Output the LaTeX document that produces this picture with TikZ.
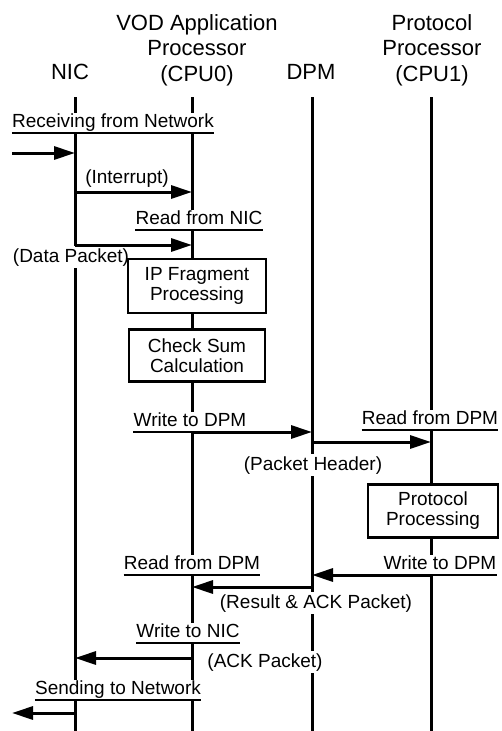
\documentclass[tikz,border=0pt]{standalone}
\usepackage{fontspec}
\setmainfont{Liberation Sans}
\usetikzlibrary{arrows.meta,positioning}

\begin{document}
\begin{tikzpicture}[
  x=1pt, y=-1pt,
  font=\fontsize{19}{20}\selectfont,
  hd/.style={align=center, inner sep=0pt, anchor=north, font=\fontsize{22}{25.5}\selectfont},
  life/.style={line width=3pt},
  proc/.style={draw, line width=2.8pt, fill=white, align=center, inner sep=0pt},
  lbl/.style={fill=white, inner xsep=0pt, inner ysep=1pt, text height=14pt, text depth=4pt, anchor=south},
  msg/.style={fill=white, inner xsep=1pt, inner ysep=2pt, anchor=base},
  ul/.style={line width=2.2pt},
  arr/.style={-{Triangle[length=21pt, width=13pt]}, line width=3pt}
]
\useasboundingbox (0,0) rectangle (502,731);

% heads
\node[hd] (nic) at (70,64) {NIC};
\node[hd] (cpu0) at (197,14) {VOD Application\\Processor\\(CPU0)};
\node[hd] (dpm) at (311,64) {DPM};
\node[hd] (cpu1) at (432,14) {Protocol\\Processor\\(CPU1)};

% lifelines
\foreach \n/\x in {nic/75, cpu0/192, dpm/312, cpu1/431}
  \draw[life] (\x,97) coordinate (l\n) -- (\x,731);

% data
\node[msg] (irq) at (127,183) {(Interrupt)};
\node[msg] (dpk) at (71,262) {(Data Packet)};
\node[msg] (phd) at (313,470) {(Packet Header)};
\node[msg] (rak) at (316,608) {(Result \& ACK Packet)};
\node[msg] (ack) at (265,667) {(ACK Packet)};

% processing
\node[proc, minimum width=138pt, minimum height=54pt] (ipf) at (197,286) {IP Fragment\\Processing};
\node[proc, minimum width=136pt, minimum height=52pt, below=14pt of ipf] (csum) {Check Sum\\Calculation};
\node[proc, minimum width=130pt, minimum height=53pt] (pp) at (433,511) {Protocol\\Processing};

% steps
\node[lbl] (rcv) at (113,133) {Receiving from Network};
\node[lbl] (rnic) at (199,230) {Read from NIC};
\node[lbl] (w1) at (190,432) {Write to DPM};
\node[lbl] (r1) at (430,430) {Read from DPM};
\node[lbl] (w2) at (440,575) {Write to DPM};
\node[lbl] (r2) at (192,575) {Read from DPM};
\node[lbl] (wnic) at (188,643) {Write to NIC};
\node[lbl] (snd) at (118,700) {Sending to Network};
\foreach \n in {rcv,rnic,w1,r1,w2,r2,wnic,snd}
  \draw[ul] (\n.south west) -- (\n.south east);

\coordinate (netin) at (12,153);
\coordinate (netout) at (12,713);
\draw[arr] (netin) -- (netin -| lnic);
\draw[arr] (lnic |- 0,192) -- (lcpu0 |- 0,192);
\draw[arr] (lnic |- 0,245) -- (lcpu0 |- 0,245);
\draw[arr] (lcpu0 |- 0,432) -- (ldpm |- 0,432);
\draw[arr] (ldpm |- 0,442) -- (lcpu1 |- 0,442);
\draw[arr] (lcpu1 |- 0,575) -- (ldpm |- 0,575);
\draw[arr] (ldpm |- 0,587) -- (lcpu0 |- 0,587);
\draw[arr] (lcpu0 |- 0,658) -- (lnic |- 0,658);
\draw[arr] (netout -| lnic) -- (netout);
\end{tikzpicture}
\end{document}
